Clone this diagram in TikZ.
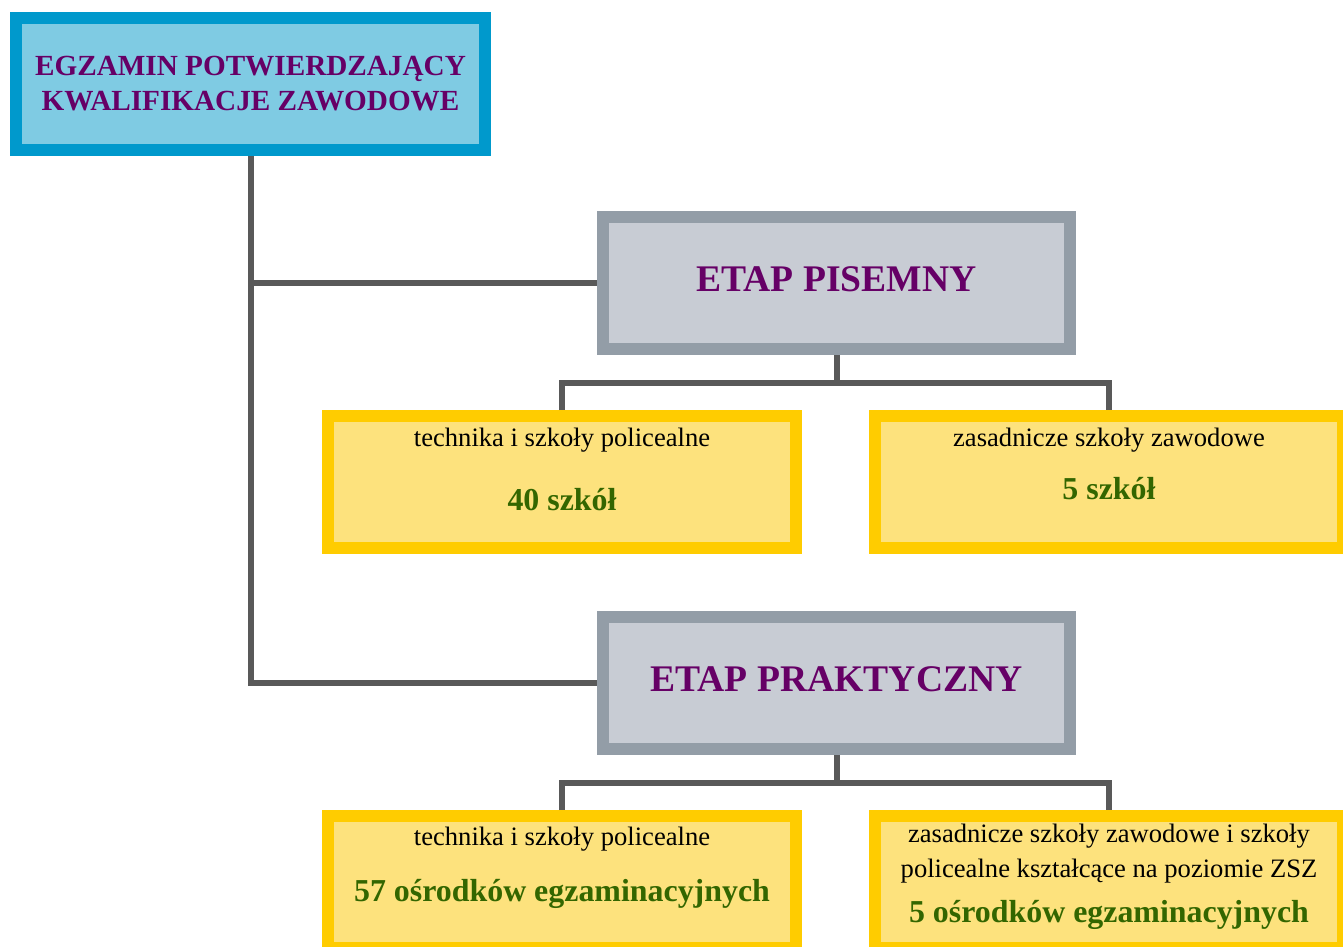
\documentclass[tikz,border=0pt]{standalone}
\usepackage{fontspec}
\setmainfont{Liberation Serif}
\definecolor{purp}{HTML}{660066}
\definecolor{grn}{HTML}{336600}
\definecolor{blueB}{HTML}{0099CC}
\definecolor{blueF}{HTML}{7FCBE3}
\definecolor{grayB}{HTML}{939DA7}
\definecolor{grayF}{HTML}{C8CCD4}
\definecolor{yelB}{HTML}{FFCC00}
\definecolor{yelF}{HTML}{FDE27D}
\definecolor{conn}{HTML}{595959}
\newcommand\Ln[1]{\hbox to\hsize{\hfil\smash{#1}\hfil}}
\newcommand\Bx[2]{\vbox to 132pt{\hsize=#1\relax\offinterlineskip #2\vfil}}
\newcommand\regf{\fontsize{26.6pt}{30pt}\selectfont}
\newcommand\grnf{\color{grn}\bfseries\fontsize{31.9pt}{36pt}\selectfont}
\newcommand\topf{\color{purp}\bfseries\fontsize{29.2pt}{32pt}\selectfont}
\newcommand\etapf{\color{purp}\bfseries\fontsize{37.6pt}{40pt}\selectfont}
\tikzset{
  framebox/.style={draw, line width=12pt, inner sep=0pt, outer sep=6pt,
    minimum width=468pt, minimum height=132pt},
  topbox/.style={framebox, draw=blueB, fill=blueF, minimum width=469pt},
  etapbox/.style={framebox, draw=grayB, fill=grayF, minimum width=467pt},
  schoolbox/.style={framebox, draw=yelB, fill=yelF},
  connector/.style={draw=conn, line width=6pt, line join=miter}
}
\begin{document}
\begin{tikzpicture}[x=1pt,y=-1pt]
\useasboundingbox (0,0) rectangle (1343,947);
\node[topbox] (top) at (250.5,84) {\Bx{469pt}{\kern57pt\Ln{\topf EGZAMIN POTWIERDZAJĄCY}\kern35pt\Ln{\topf KWALIFIKACJE ZAWODOWE}}};
\node[etapbox] (pis) at (836.5,283) {\Bx{467pt}{\kern74pt\Ln{\etapf ETAP PISEMNY}}};
\node[etapbox] (prak) at (836.5,683) {\Bx{467pt}{\kern74pt\Ln{\etapf ETAP PRAKTYCZNY}}};
\node[schoolbox] (pl) at (562,482) {\Bx{468pt}{\kern30pt\Ln{\regf technika i szkoły policealne}\kern64pt\Ln{\grnf 40 szkół}}};
\node[schoolbox] (pr) at (1109,482) {\Bx{468pt}{\kern30.7pt\Ln{\regf zasadnicze szkoły zawodowe}\kern52.3pt\Ln{\grnf 5 szkół}}};
\node[schoolbox] (kl) at (562,882) {\Bx{468pt}{\kern29.7pt\Ln{\regf technika i szkoły policealne}\kern55.3pt\Ln{\grnf 57 ośrodków egzaminacyjnych}}};
\node[schoolbox] (kr) at (1109,882) {\Bx{468pt}{\kern26.7pt\Ln{\regf zasadnicze szkoły zawodowe i szkoły}\kern34.3pt\Ln{\regf policealne kształcące na poziomie ZSZ}\kern45.7pt\Ln{\grnf 5 ośrodków egzaminacyjnych}}};
\draw[connector] (top.south) |- (prak.west);
\draw[connector] (top.south |- pis.west) -- (pis.west);
\draw[connector] (pis.south) -- ++(0,28);
\draw[connector] (pl.north) -- ++(0,-27) -| (pr.north);
\draw[connector] (prak.south) -- ++(0,28);
\draw[connector] (kl.north) -- ++(0,-27) -| (kr.north);
\end{tikzpicture}
\end{document}
